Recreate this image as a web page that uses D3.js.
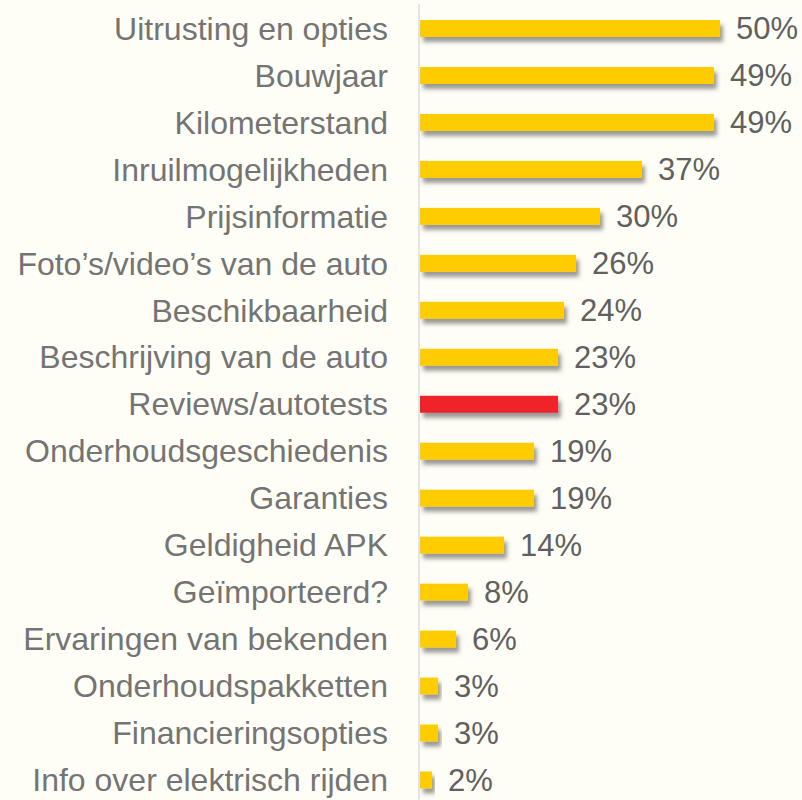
<!DOCTYPE html>
<html>
<head>
<meta charset="utf-8">
<script src="https://cdn.jsdelivr.net/npm/d3@7"></script>
<style>
  body { margin: 0; background: #fffef6; }
  .lbl { font-family: "Liberation Sans", Arial, sans-serif; fill: #747474; }
</style>
</head>
<body>
<svg id="graph" width="802" height="800"></svg>
<script>
// chart data
var categories = ["Uitrusting en opties", "Bouwjaar", "Kilometerstand", "Inruilmogelijkheden",
  "Prijsinformatie", "Foto\u2019s/video\u2019s van de auto", "Beschikbaarheid", "Beschrijving van de auto",
  "Reviews/autotests", "Onderhoudsgeschiedenis", "Garanties", "Geldigheid APK", "Ge\u00efmporteerd?",
  "Ervaringen van bekenden", "Onderhoudspakketten", "Financieringsopties", "Info over elektrisch rijden"];
var values = [50, 49, 49, 37, 30, 26, 24, 23, 23, 19, 19, 14, 8, 6, 3, 3, 2];
var highlight = ["Reviews/autotests"];

var svg = d3.select("#graph")
var x0 = 420, barH = 17

var x = d3.scaleLinear().domain([0, 50]).range([x0, 720])
var y = d3.scalePoint().domain(categories).range([28.5, 780])

var defs = svg.append("defs")
defs.append("filter").attr("id", "shadow")
  .attr("x", "-20%").attr("y", "-50%").attr("width", "140%").attr("height", "250%")
  .append("feDropShadow")
  .attr("dx", 3).attr("dy", 5).attr("stdDeviation", 2.2)
  .attr("flood-color", "#555").attr("flood-opacity", 0.6)

// axis line
svg.append("line")
  .attr("x1", 419).attr("x2", 419).attr("y1", 4).attr("y2", 800)
  .attr("stroke", "#dcdcdc").attr("stroke-width", 1.5)

svg.selectAll("rect.bar")
  .data(categories)
  .enter().append("rect")
  .attr("class", "bar")
  .attr("x", x(0))
  .attr("y", d => y(d) - barH / 2)
  .attr("width", (d, i) => x(values[i]) - x(0))
  .attr("height", barH)
  .attr("fill", d => highlight.includes(d) ? "#f0202a" : "#ffcc00")
  .attr("filter", "url(#shadow)")

svg.selectAll("text.cat")
  .data(categories)
  .enter().append("text")
  .attr("class", "lbl cat")
  .attr("x", 388)
  .attr("y", d => y(d))
  .attr("dy", "0.35em")
  .attr("text-anchor", "end")
  .style("font-size", "32px")
  .text(d => d)

svg.selectAll("text.val")
  .data(categories)
  .enter().append("text")
  .attr("class", "lbl val")
  .attr("x", (d, i) => x(values[i]) + 16)
  .attr("y", d => y(d))
  .attr("dy", "0.35em")
  .style("font-size", "31px")
  .style("fill", "#606060")
  .text((d, i) => values[i] + "%")
</script>
</body>
</html>
